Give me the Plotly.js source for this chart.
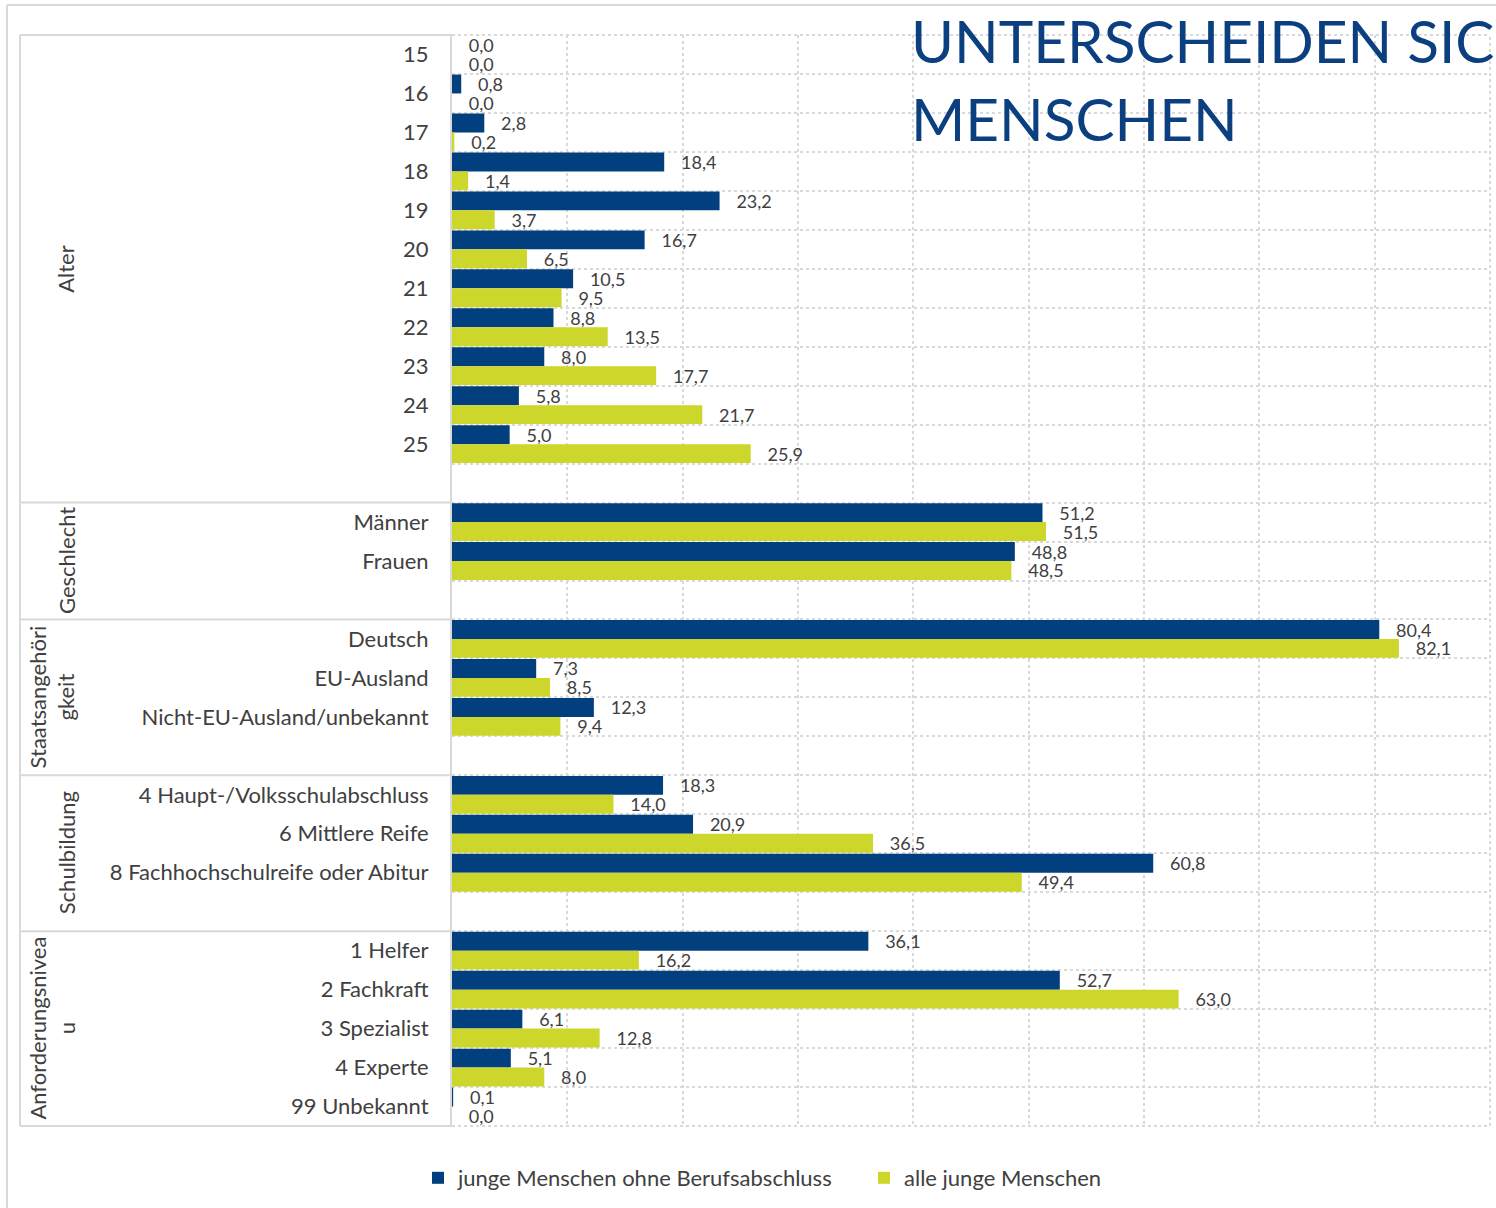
<!DOCTYPE html>
<html><head><meta charset="utf-8">
<script src="https://cdn.plot.ly/plotly-3.0.1.min.js"></script>
<style>html,body{margin:0;padding:0;background:#fff}#chart{width:1496px;height:1208px}</style>
</head><body><div id="chart"></div>
<script>
// ---------- data ----------
const groupNames = ["Alter", "Geschlecht", "Staatsangehöri<br>gkeit", "Schulbildung", "Anforderungsnivea<br>u"];
const catAlter = ["15","16","17","18","19","20","21","22","23","24","25"];
const catGeschlecht = ["Männer","Frauen"];
const catStaat = ["Deutsch","EU-Ausland","Nicht-EU-Ausland/unbekannt"];
const catSchule = ["4 Haupt-/Volksschulabschluss","6 Mittlere Reife","8 Fachhochschulreife oder Abitur"];
const catNiveau = ["1 Helfer","2 Fachkraft","3 Spezialist","4 Experte","99 Unbekannt"];
const blankRowsAfter = [1, 1, 1, 1, 0];

const ohneAlter = [0.0, 0.8, 2.8, 18.4, 23.2, 16.7, 10.5, 8.8, 8.0, 5.8, 5.0];
const ohneGeschlecht = [51.2, 48.8];
const ohneStaat = [80.4, 7.3, 12.3];
const ohneSchule = [18.3, 20.9, 60.8];
const ohneNiveau = [36.1, 52.7, 6.1, 5.1, 0.1];

const alleAlter = [0.0, 0.0, 0.2, 1.4, 3.7, 6.5, 9.5, 13.5, 17.7, 21.7, 25.9];
const alleGeschlecht = [51.5, 48.5];
const alleStaat = [82.1, 8.5, 9.4];
const alleSchule = [14.0, 36.5, 49.4];
const alleNiveau = [16.2, 63.0, 12.8, 8.0, 0.0];

const seriesNames = ["junge Menschen ohne Berufsabschluss", "alle junge Menschen"];
const titleLines = ["UNTERSCHEIDEN SIC", "MENSCHEN"];

// ---------- build rows ----------
const groupCats = [catAlter, catGeschlecht, catStaat, catSchule, catNiveau];
const groupOhne = [ohneAlter, ohneGeschlecht, ohneStaat, ohneSchule, ohneNiveau];
const groupAlle = [alleAlter, alleGeschlecht, alleStaat, alleSchule, alleNiveau];

const yCats = [], xOhne = [], xAlle = [];
const groupStart = [], groupSize = [];
let blankCount = 0;
groupCats.forEach((cats, g) => {
  groupStart.push(yCats.length);
  cats.forEach((c, i) => { yCats.push(c); xOhne.push(groupOhne[g][i]); xAlle.push(groupAlle[g][i]); });
  for (let b = 0; b < blankRowsAfter[g]; b++) {
    blankCount++;
    yCats.push("\u200b".repeat(blankCount));
    xOhne.push(null); xAlle.push(null);
  }
  groupSize.push(yCats.length - groupStart[g]);
});
const nRows = yCats.length;

// ---------- layout geometry ----------
const W = 1496, H = 1208, ML = 452, MR = 6, MT = 35, MB = 82;
const PW = W - ML - MR, PH = H - MT - MB;
const px2x = p => (p - ML) / PW;
const py2y = p => (H - MB - p) / PH;
const row2y = r => 1 - r / nRows;

const FONT = "Lato, 'Open Sans', sans-serif";
const TXT = "#404040";
const GRID = "#d9d9d9";
const blue = "#023f7e", green = "#ccd62b";

const textTpl = "\u00a0\u00a0\u00a0%{x:.1f}";

const traces = [
  {type: "bar", orientation: "h", name: seriesNames[0], y: yCats, x: xOhne,
   marker: {color: blue}, texttemplate: textTpl, textposition: "outside",
   constraintext: "none", cliponaxis: false,
   textfont: {family: FONT, size: 18, color: TXT}, hoverinfo: "skip"},
  {type: "bar", orientation: "h", name: seriesNames[1], y: yCats, x: xAlle,
   marker: {color: green}, texttemplate: textTpl, textposition: "outside",
   constraintext: "none", cliponaxis: false,
   textfont: {family: FONT, size: 18, color: TXT}, hoverinfo: "skip"}
];

const shapes = [];
const annotations = [];
// plot-area dotted edges (top, bottom, right)
[0, nRows].forEach(r => {
  shapes.push({type: "line", layer: "below", xref: "paper", yref: "paper", x0: 0, x1: 1, y0: row2y(r), y1: row2y(r), line: {color: GRID, width: 2, dash: "dot"}});
});
shapes.push({type: "line", layer: "below", xref: "paper", yref: "paper", x0: 1, x1: 1, y0: 0, y1: 1, line: {color: GRID, width: 2, dash: "dot"}});
// outer frame
shapes.push({type: "line", xref: "paper", yref: "paper", x0: px2x(7), x1: px2x(W), y0: py2y(5), y1: py2y(5), line: {color: GRID, width: 2}});
shapes.push({type: "line", xref: "paper", yref: "paper", x0: px2x(7), x1: px2x(7), y0: py2y(5), y1: py2y(H), line: {color: GRID, width: 2}});
// label area frame
shapes.push({type: "line", xref: "paper", yref: "paper", x0: px2x(20), x1: px2x(20), y0: row2y(0), y1: row2y(nRows), line: {color: GRID, width: 2}});
const bounds = groupStart.concat([nRows]);
bounds.forEach(r => {
  shapes.push({type: "line", xref: "paper", yref: "paper", x0: px2x(20), x1: 0, y0: row2y(r), y1: row2y(r), line: {color: GRID, width: 2}});
});
// group labels
groupNames.forEach((name, g) => {
  const twoLines = name.indexOf("<br>") >= 0;
  annotations.push({
    text: name, textangle: -90, showarrow: false,
    xref: "paper", yref: "paper",
    x: px2x(twoLines ? 52 : 66), xanchor: "center",
    y: row2y(groupStart[g] + groupSize[g] / 2), yanchor: "middle",
    font: {family: FONT, size: 22, color: TXT}, align: "center"
  });
});
// title (two lines placed separately)
const titleTops = [3, 81];
titleLines.forEach((t, i) => {
  annotations.push({
    text: t, showarrow: false, xref: "paper", yref: "paper",
    x: px2x(909), xanchor: "left", y: py2y(titleTops[i]), yanchor: "top", align: "left",
    font: {family: FONT, size: 58.5, color: "#0b3f7f"}
  });
});

const layout = {
  width: W, height: H,
  margin: {l: ML, r: MR, t: MT, b: MB, pad: 0},
  paper_bgcolor: "#fff", plot_bgcolor: "#fff",
  separators: ",.",
  barmode: "group", bargap: 0.03, bargroupgap: 0,
  showlegend: true,
  legend: {orientation: "h", x: px2x(418), xanchor: "left", y: py2y(1178), yanchor: "middle",
           entrywidth: 401,
           font: {family: FONT, size: 22, color: TXT}, itemwidth: 30, traceorder: "normal"},
  xaxis: {range: [0, 90], dtick: 10, tick0: 0, showticklabels: false, showgrid: true,
          gridcolor: GRID, griddash: "dot", gridwidth: 2, zeroline: false, fixedrange: true},
  yaxis: {type: "category", categoryorder: "array", categoryarray: yCats, autorange: "reversed",
          tickson: "boundaries", ticks: "", showgrid: true, gridcolor: GRID, griddash: "dot", gridwidth: 2,
          showline: true, linecolor: GRID, linewidth: 2, ticklabelstandoff: 17,
          tickfont: {family: FONT, size: 22, color: TXT}, fixedrange: true},
  shapes: shapes,
  annotations: annotations,
  hovermode: false
};

Plotly.newPlot("chart", traces, layout, {staticPlot: true, displayModeBar: false}).then(gd => {
  // drop the invisible labels of the empty spacer rows
  gd.querySelectorAll(".ytick text").forEach(t => {
    if (t.textContent.replace(/\u200b/g, "").trim() === "") t.remove();
  });
});
</script>
</body></html>
